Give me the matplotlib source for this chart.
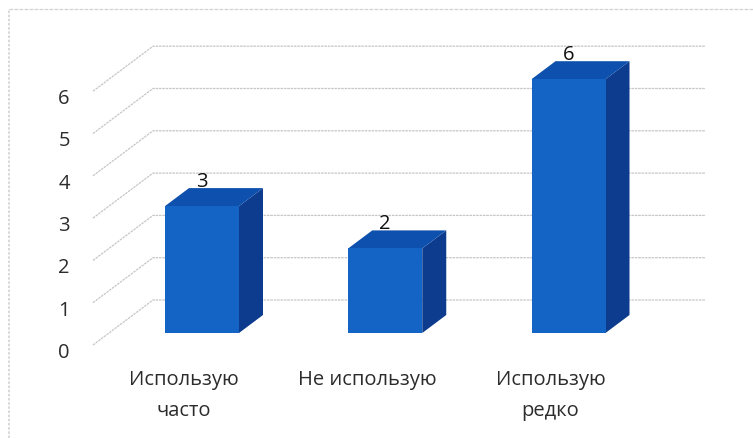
import matplotlib
matplotlib.use("Agg")
import matplotlib.pyplot as plt
from matplotlib.patches import Polygon

categories = ["Использую\nчасто", "Не использую", "Использую\nредко"]
values = [3, 2, 6]
y_ticks = [0, 1, 2, 3, 4, 5, 6]

plt.rcParams['font.family'] = ['Open Sans', 'DejaVu Sans']

W, H = 753, 439
X_UNIT = 183.25   # px per category
Y_UNIT = 42.3     # px per value
X0, Y0 = 202, 334  # px position of first bar centre / value 0 on bar front

fig = plt.figure(figsize=(W / 100, H / 100), dpi=100)
ax = fig.add_axes([0, 0, 1, 1])
ax.set_xlim(-X0 / X_UNIT, (W - X0) / X_UNIT)
ax.set_ylim((Y0 - H) / Y_UNIT, Y0 / Y_UNIT)
ax.axis('off')


def px(n):
    return n / X_UNIT


def py(n):
    return n / Y_UNIT


GRID = '#c6c6c6'
FRONT, SIDE, TOP = '#1464c6', '#0d3c8e', '#0e50ad'
half = px(37)
dx, dy = px(24), py(18)

# floor/wall grid: slanted part then back wall
for v in y_ticks:
    ax.plot([px(-109), px(-49), px(503)], [v + py(-12), v + py(33), v + py(33)],
            color=GRID, lw=0.9, ls=(0, (2, 0.7)), zorder=1)

# scan border
ax.plot([px(-193), px(-193)], [py(-105), py(324)], color='#d2d2d2', lw=1.2, ls=(0, (1.5, 1)), zorder=1)
ax.plot([px(-193), px(551)], [py(324), py(324)], color='#d2d2d2', lw=0.9, ls=(0, (3, 1)), zorder=1)

for i, val in enumerate(values):
    l, r = i - half, i + half
    ax.add_patch(Polygon([(r, 0), (r + dx, dy), (r + dx, val + dy), (r, val)], color=SIDE, lw=0, zorder=3))
    ax.add_patch(Polygon([(l, val), (r, val), (r + dx, val + dy), (l + dx, val + dy)], color=TOP, lw=0, zorder=3))
    ax.add_patch(Polygon([(l, 0), (r, 0), (r, val), (l, val)], color=FRONT, lw=0, zorder=4))
    ax.text(i, val + py(25), str(val), ha='center', va='center', fontsize=14.5, color='#111111', zorder=5)
    ax.text(i - px(18), py(-36), categories[i], ha='center', va='top', fontsize=14.5,
            color='#2c2c2c', linespacing=1.75, zorder=5)

for v in y_ticks:
    ax.text(px(-138), v + py(-16) - py(3), str(v), ha='center', va='center', fontsize=14.5,
            color='#2c2c2c', zorder=5)

fig.savefig("out.png", dpi=100)
